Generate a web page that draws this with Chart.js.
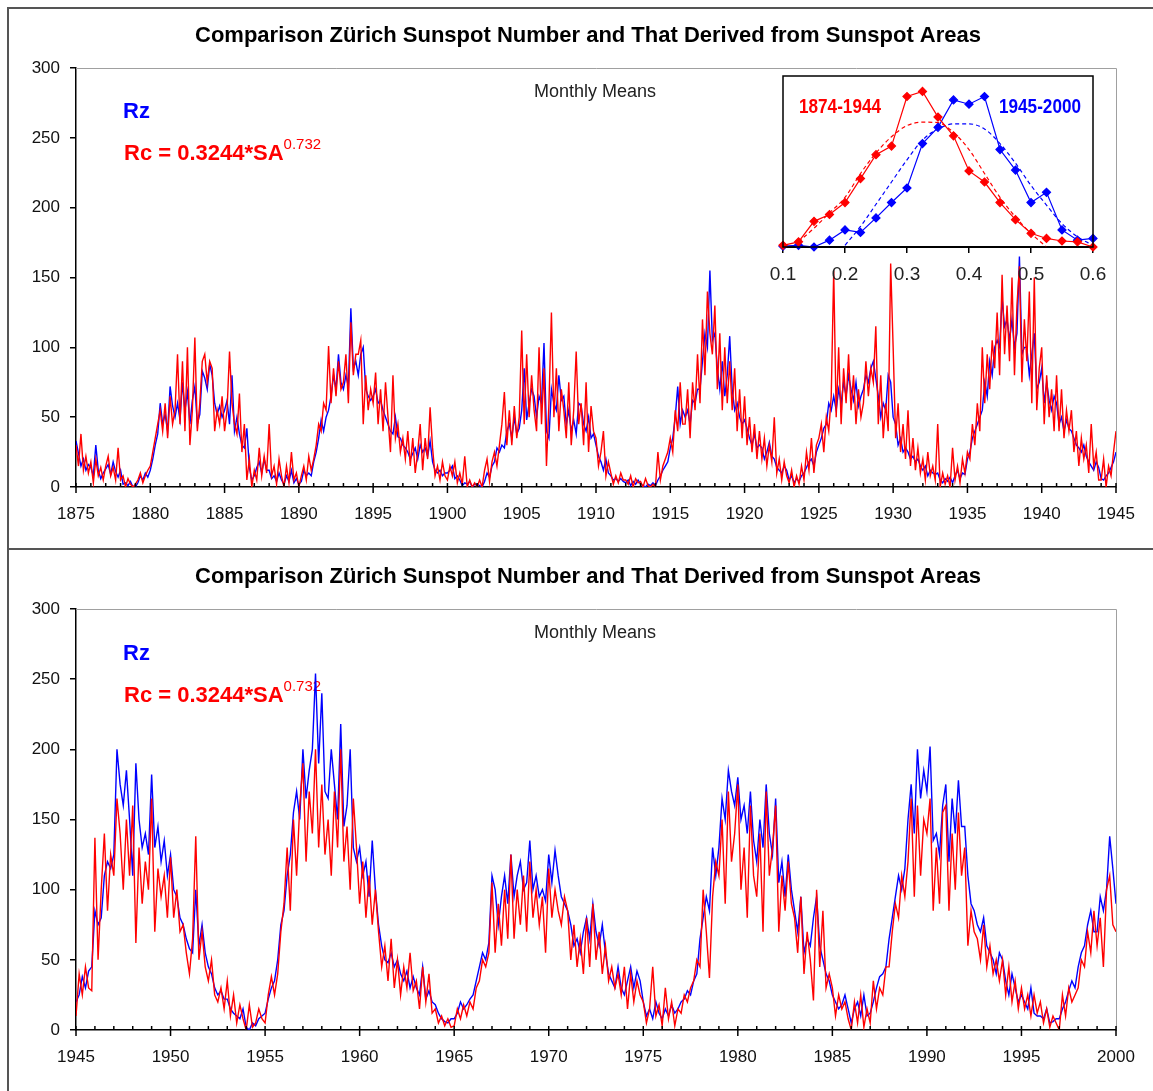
<!DOCTYPE html>
<html>
<head>
<meta charset="utf-8">
<script src="https://cdn.jsdelivr.net/npm/chart.js@4.4.1/dist/chart.umd.min.js"></script>
<style>
  body { margin: 0; background: #fff; width: 1153px; height: 1091px; overflow: hidden; position: relative; }
  .frame { position: absolute; left: 7px; top: 7px; width: 1300px; height: 1200px; border-left: 2px solid #555; border-top: 2px solid #555; }
  .sep { position: absolute; left: 7px; top: 548px; width: 1300px; height: 2px; background: #555; }
  canvas { position: absolute; }
</style>
</head>
<body>
<div class="frame"></div>
<div class="sep"></div>
<canvas id="topChart" width="1153" height="548" style="left:0;top:0"></canvas>
<canvas id="bottomChart" width="1153" height="541" style="left:0;top:550px"></canvas>
<canvas id="inset" width="370" height="230" style="left:753px;top:66px"></canvas>
<script>
// monthly-ish means, 6 values per year (every 2 months)
const PER_YEAR = 6;

const topStart = 1875, topEnd = 1945;
const topRz = [
  33,24,15,20,12,16,  14,8,30,12,6,10,  13,16,9,18,11,7,  12,2,3,1,4,0,  0,3,8,5,10,7,
  12,20,30,38,60,45,  52,40,72,58,50,60,  48,75,55,68,45,62,  72,45,52,83,78,70,  88,80,60,52,58,50,
  55,62,45,80,40,50,  38,30,28,42,14,5,  8,14,18,10,20,12,  12,6,8,4,10,5,  2,8,4,12,3,6,
  2,4,12,8,10,8,  18,25,35,48,40,50,  55,65,80,70,95,75,  70,80,72,128,85,90,  80,95,100,70,65,62,
  65,70,60,62,55,50,  45,40,38,50,36,35,  30,28,25,20,24,28,  20,30,25,28,22,33,  18,12,10,12,8,10,
  10,12,15,6,8,5,  1,3,2,4,0,2,  2,1,0,4,10,7,  15,18,28,25,30,28,  40,45,35,50,38,42,
  55,85,48,60,70,65,  50,65,60,103,40,35,  70,60,55,80,62,65,  45,55,40,48,38,60,  58,45,40,50,35,38,
  30,22,18,12,20,10,  8,5,6,4,6,4,  3,5,1,4,2,5,  2,1,0,2,1,3,  1,5,8,12,15,18,
  28,35,50,72,45,55,  50,55,45,62,60,70,  70,90,110,100,155,105,  110,85,70,90,65,80,  108,70,55,60,50,45,
  48,42,35,30,38,28,  30,28,20,25,32,22,  20,14,12,10,15,12,  5,8,3,6,4,8,  10,14,18,20,15,25,
  30,35,42,45,60,55,  65,55,70,60,75,65,  80,70,62,75,58,65,  70,80,75,85,90,78,  65,50,60,55,80,75,
  50,45,30,35,25,28,  25,20,22,18,20,15,  12,15,8,12,10,9,  10,5,3,6,4,7,  3,8,12,6,10,9,
  20,25,35,40,45,50,  55,75,65,90,80,100,  105,100,135,115,120,105,  120,100,110,165,95,100,  100,80,95,110,70,75,
  85,60,75,62,55,65,  60,45,50,40,48,42,  40,35,30,28,25,30,  22,18,15,12,18,14,  6,5,8,10,14,18,
  25
];
const topRc = [
  30,15,38,12,22,10,  18,3,20,8,14,5,  15,22,8,14,5,28,  5,8,0,6,2,0,  2,5,10,3,8,12,
  15,25,35,45,55,40,  60,35,65,45,55,95,  45,90,40,100,30,55,  107,40,60,90,95,75,  90,85,40,55,45,65,
  40,55,97,60,45,38,  67,25,45,5,20,0,  12,5,28,8,22,10,  45,8,15,2,20,8,  0,15,3,25,5,10,
  0,8,15,5,22,12,  20,30,45,40,60,55,  101,60,85,65,90,70,  75,95,60,118,80,95,  95,105,45,80,55,70,
  60,82,45,70,40,75,  50,25,80,35,45,25,  35,20,40,15,35,10,  25,45,12,35,20,57,  28,8,15,5,18,8,
  5,15,8,18,3,10,  2,22,0,5,0,3,  0,5,0,12,20,4,  18,25,15,30,45,68,  30,55,30,58,35,50,
  112,45,95,50,80,55,  40,100,45,85,15,60,  125,50,85,40,70,55,  35,75,30,55,97,45,  60,30,75,25,58,40,
  35,15,25,40,8,18,  10,2,8,3,10,5,  5,2,8,0,6,3,  4,0,6,1,0,2,  0,25,5,15,20,25,
  35,25,55,40,75,45,  45,70,35,75,55,95,  60,120,80,140,110,95,  130,70,110,55,100,60,  90,55,85,40,70,35,
  65,30,50,25,45,20,  40,20,35,15,30,18,  50,10,20,5,18,8,  3,12,0,8,2,15,  5,25,12,35,10,30,
  35,45,25,50,40,65,  155,50,100,45,85,60,  95,55,80,45,70,50,  60,90,65,85,75,115,  45,80,35,60,40,160,
  100,35,60,25,45,20,  55,15,35,12,28,10,  20,5,25,8,15,5,  45,0,10,2,8,0,  28,5,15,3,20,10,
  25,20,45,30,60,40,  100,60,95,70,105,85,  125,80,152,95,130,90,  150,80,130,158,75,120,  90,140,60,150,55,85,
  100,45,80,50,70,40,  80,40,70,35,55,40,  55,25,40,15,35,20,  30,10,45,15,25,5,  5,20,0,15,8,25,
  40
];

const bottomStart = 1945, bottomEnd = 2000;
const bottomRz = [
  20,25,38,30,42,45,  85,75,80,110,120,115,  125,200,175,160,185,150,  110,190,150,130,140,125,  182,130,145,120,135,110,
  125,100,95,80,75,65,  58,55,100,60,75,55,  45,40,30,25,28,22,  22,15,12,10,8,15,  2,0,5,3,8,10,
  12,22,30,35,50,75,  85,110,125,155,170,150,  200,165,185,200,254,190,  240,170,165,200,175,150,  218,145,160,200,130,120,
  130,110,120,95,135,100,  75,60,50,48,55,45,  50,40,35,42,30,38,  30,25,45,22,28,20,  18,12,8,6,5,8,
  8,12,20,15,18,22,  25,35,45,55,50,62,  110,100,75,95,110,90,  125,95,110,120,100,105,  135,100,110,95,100,92,
  125,105,128,110,95,90,  85,75,60,65,55,70,  80,65,90,70,60,75,  55,40,35,30,45,30,  25,35,45,30,42,35,
  20,10,15,8,20,12,  8,15,10,18,12,15,  20,22,28,25,35,40,  65,80,95,85,130,110,  130,165,150,185,170,160,
  180,150,160,140,170,135,  120,150,130,175,140,125,  165,105,120,95,125,100,  85,70,95,55,65,60,  80,95,60,50,40,35,
  25,20,15,18,25,15,  5,15,20,10,25,10,  12,20,30,38,40,45,  65,80,95,110,100,115,  150,175,140,200,165,185,
  170,202,135,140,125,160,  175,120,165,140,178,145,  145,110,90,85,75,70,  80,60,55,50,40,55,  50,35,25,40,30,20,
  25,20,15,30,12,10,  10,8,15,5,6,8,  8,15,20,28,35,30,  45,55,60,75,85,70,  70,95,85,100,138,115,
  90
];
const bottomRc = [
  10,40,25,45,30,28,  137,50,100,140,85,125,  110,165,140,100,150,110,  160,62,130,90,120,100,  165,70,115,95,110,80,
  123,80,100,70,75,55,  40,65,138,50,70,45,  35,50,25,20,30,15,  35,10,25,5,18,8,  0,18,2,5,15,8,
  5,25,38,25,40,70,  90,130,85,150,110,160,  190,120,170,140,200,130,  175,125,150,110,170,130,  200,120,145,100,165,130,
  90,120,80,110,75,100,  70,45,60,35,65,30,  50,25,45,30,55,28,  35,15,45,20,40,12,  15,5,10,3,8,2,
  3,15,8,18,10,20,  15,30,35,50,45,55,  105,55,90,60,100,65,  125,65,100,75,110,70,  120,80,100,75,95,55,
  115,80,100,85,75,95,  85,50,75,45,65,40,  80,45,90,50,70,40,  60,35,45,30,40,25,  45,15,40,20,35,25,
  20,5,15,45,10,18,  3,30,8,20,3,15,  12,25,20,30,35,50,  45,100,70,37,95,120,  110,150,90,170,120,140,
  175,100,130,80,160,110,  95,140,70,170,110,130,  160,70,110,85,120,90,  80,55,95,40,70,50,  21,100,45,85,30,40,
  30,10,25,15,20,8,  0,20,5,25,2,15,  5,35,15,30,25,45,  45,70,90,80,110,95,  120,165,95,160,110,150,
  140,165,85,130,90,155,  160,85,140,100,155,110,  130,60,85,70,65,50,  75,45,60,40,50,35,  50,25,45,20,35,15,
  30,15,25,10,25,12,  20,5,15,2,10,5,  0,25,10,30,20,25,  30,50,45,70,55,85,  60,80,45,100,110,75,
  70
];

// inset: frequency distributions (relative heights)
const histBins = [0.1,0.125,0.15,0.175,0.2,0.225,0.25,0.275,0.3,0.325,0.35,0.375,0.4,0.425,0.45,0.475,0.5,0.525,0.55,0.575,0.6];
const hist1874 = [0.01,0.03,0.15,0.19,0.26,0.40,0.54,0.59,0.88,0.91,0.76,0.65,0.445,0.38,0.26,0.16,0.08,0.05,0.035,0.03,0.0];
const hist1945 = [0.005,0.01,0.0,0.04,0.10,0.085,0.17,0.26,0.345,0.605,0.70,0.86,0.835,0.88,0.57,0.45,0.26,0.32,0.10,0.04,0.05];
const fit1874 = [null,0.03,0.11,0.20,0.29,0.43,0.55,0.645,0.71,0.73,0.727,0.67,0.57,0.43,0.29,0.175,0.08,0.0,null,null,null];
const fit1945 = [null,null,null,null,0.01,0.12,0.25,0.38,0.51,0.625,0.69,0.72,0.72,0.69,0.605,0.49,0.36,0.245,0.137,0.06,0.01];

const FONT = '"Liberation Sans", Arial, sans-serif';
Chart.defaults.font.family = FONT;

const toPoints = (start, values) => values.map((v, i) => ({ x: start + i / PER_YEAR, y: v }));
const toXY = (xs, ys) => xs.map((x, i) => ({ x: x, y: ys[i] }));

// frame, minor ticks and the text annotations of each panel
const panelDecor = {
  id: 'panelDecor',
  beforeDatasetsDraw(chart, args, o) {
    const { ctx } = chart;
    ctx.save();
    ctx.fillStyle = '#000';
    ctx.textAlign = 'center';
    ctx.font = 'bold 22px ' + FONT;
    ctx.fillText('Comparison Zürich Sunspot Number and That Derived from Sunspot Areas', 588, o.titleY);
    ctx.fillStyle = '#222';
    ctx.font = '18px ' + FONT;
    ctx.fillText('Monthly Means', 595, o.noteY);
    ctx.textAlign = 'left';
    ctx.font = 'bold 22px ' + FONT;
    ctx.fillStyle = '#0000ff';
    ctx.fillText('Rz', 123, o.rzY);
    ctx.fillStyle = '#ff0000';
    const main = 'Rc = 0.3244*SA';
    ctx.fillText(main, 124, o.rcY);
    const w = ctx.measureText(main).width;
    ctx.font = '15px ' + FONT;
    ctx.fillText('0.732', 124 + w, o.rcY - 11);
    ctx.restore();
  },
  afterDraw(chart) {
    const { ctx, chartArea: a, scales: { x } } = chart;
    ctx.save();
    ctx.strokeStyle = '#a0a0a0';
    ctx.lineWidth = 1;
    ctx.beginPath();
    ctx.moveTo(a.left, a.top + 0.5);
    ctx.lineTo(a.right + 0.5, a.top + 0.5);
    ctx.lineTo(a.right + 0.5, a.bottom);
    ctx.stroke();
    ctx.strokeStyle = '#000';
    ctx.lineWidth = 1.5;
    for (let yr = x.min; yr <= x.max; yr++) {
      const px = x.getPixelForValue(yr);
      ctx.beginPath();
      ctx.moveTo(px, a.bottom - 4);
      ctx.lineTo(px, a.bottom + (yr % 5 === 0 ? 6 : 0));
      ctx.stroke();
    }
    ctx.restore();
  }
};

function sunspotChart(id, start, end, rz, rc, deco) {
  return new Chart(document.getElementById(id), {
    type: 'line',
    data: {
      datasets: [
        { label: 'Rc', data: toPoints(start, rc), borderColor: '#ff0000', borderWidth: 1.4, pointRadius: 0 },
        { label: 'Rz', data: toPoints(start, rz), borderColor: '#0000ff', borderWidth: 1.4, pointRadius: 0 }
      ]
    },
    options: {
      responsive: false,
      animation: false,
      events: [],
      layout: { padding: { top: deco.padTop, right: 37, bottom: 11, left: 0 } },
      plugins: { legend: { display: false }, tooltip: { enabled: false }, panelDecor: deco },
      scales: {
        x: {
          type: 'linear', min: start, max: end,
          afterFit(s) { s.height = 50; },
          ticks: { stepSize: 5, padding: 17, color: '#111', font: { size: 17 }, maxRotation: 0, autoSkip: false, callback: v => String(v) },
          grid: { drawOnChartArea: false, drawTicks: false, color: '#000' },
          border: { color: '#000', width: 1.5 }
        },
        y: {
          min: 0, max: 300,
          afterFit(s) { s.width = 76; },
          ticks: { stepSize: 50, padding: 10, color: '#111', font: { size: 17 } },
          grid: { drawOnChartArea: false, tickLength: 6, color: '#000', lineWidth: 1.5 },
          border: { color: '#000', width: 1.5 }
        }
      }
    },
    plugins: [panelDecor]
  });
}

sunspotChart('topChart', topStart, topEnd, topRz, topRc,
  { padTop: 68, titleY: 42, noteY: 97, rzY: 118, rcY: 160 });
sunspotChart('bottomChart', bottomStart, bottomEnd, bottomRz, bottomRc,
  { padTop: 59, titleY: 33, noteY: 88, rzY: 110, rcY: 152 });

// inset box with the two distributions
const insetDecor = {
  id: 'insetDecor',
  afterDraw(chart) {
    const { ctx, chartArea: a } = chart;
    ctx.save();
    ctx.strokeStyle = '#000';
    ctx.lineWidth = 1.5;
    ctx.strokeRect(a.left, a.top, a.right - a.left, a.bottom - a.top);
    ctx.font = 'bold 20px ' + FONT;
    ctx.textAlign = 'center';
    const label = (txt, cx, color) => {
      const w = ctx.measureText(txt).width;
      ctx.save();
      ctx.translate(cx, 47);
      ctx.scale(82 / w, 1);
      ctx.fillStyle = color;
      ctx.fillText(txt, 0, 0);
      ctx.restore();
    };
    label('1874-1944', 87, '#ff0000');
    label('1945-2000', 287, '#0000ff');
    ctx.restore();
  }
};

new Chart(document.getElementById('inset'), {
  type: 'line',
  data: {
    datasets: [
      { data: toXY(histBins, hist1874), borderColor: '#ff0000', backgroundColor: '#ff0000', borderWidth: 1.2,
        pointStyle: 'rectRot', pointRadius: 4, clip: false },
      { data: toXY(histBins, hist1945), borderColor: '#0000ff', backgroundColor: '#0000ff', borderWidth: 1.2,
        pointStyle: 'rectRot', pointRadius: 4, clip: false },
      { data: toXY(histBins, fit1874), borderColor: '#ff0000', borderWidth: 1.2, borderDash: [4, 3],
        pointRadius: 0, cubicInterpolationMode: 'monotone', clip: false },
      { data: toXY(histBins, fit1945), borderColor: '#0000ff', borderWidth: 1.2, borderDash: [4, 3],
        pointRadius: 0, cubicInterpolationMode: 'monotone', clip: false }
    ]
  },
  options: {
    responsive: false,
    animation: false,
    events: [],
    layout: { padding: { top: 10, right: 30, bottom: 9, left: 30 } },
    plugins: { legend: { display: false }, tooltip: { enabled: false } },
    scales: {
      x: {
        type: 'linear', min: 0.1, max: 0.6,
        afterFit(s) { s.height = 40; },
        ticks: { stepSize: 0.1, padding: 10, color: '#222', font: { size: 19 }, maxRotation: 0, callback: v => v.toFixed(1) },
        grid: { drawOnChartArea: false, tickLength: 6, color: '#000', lineWidth: 1.5 },
        border: { color: '#000', width: 2 }
      },
      y: { display: false, min: 0, max: 1 }
    }
  },
  plugins: [insetDecor]
});
</script>
</body>
</html>
